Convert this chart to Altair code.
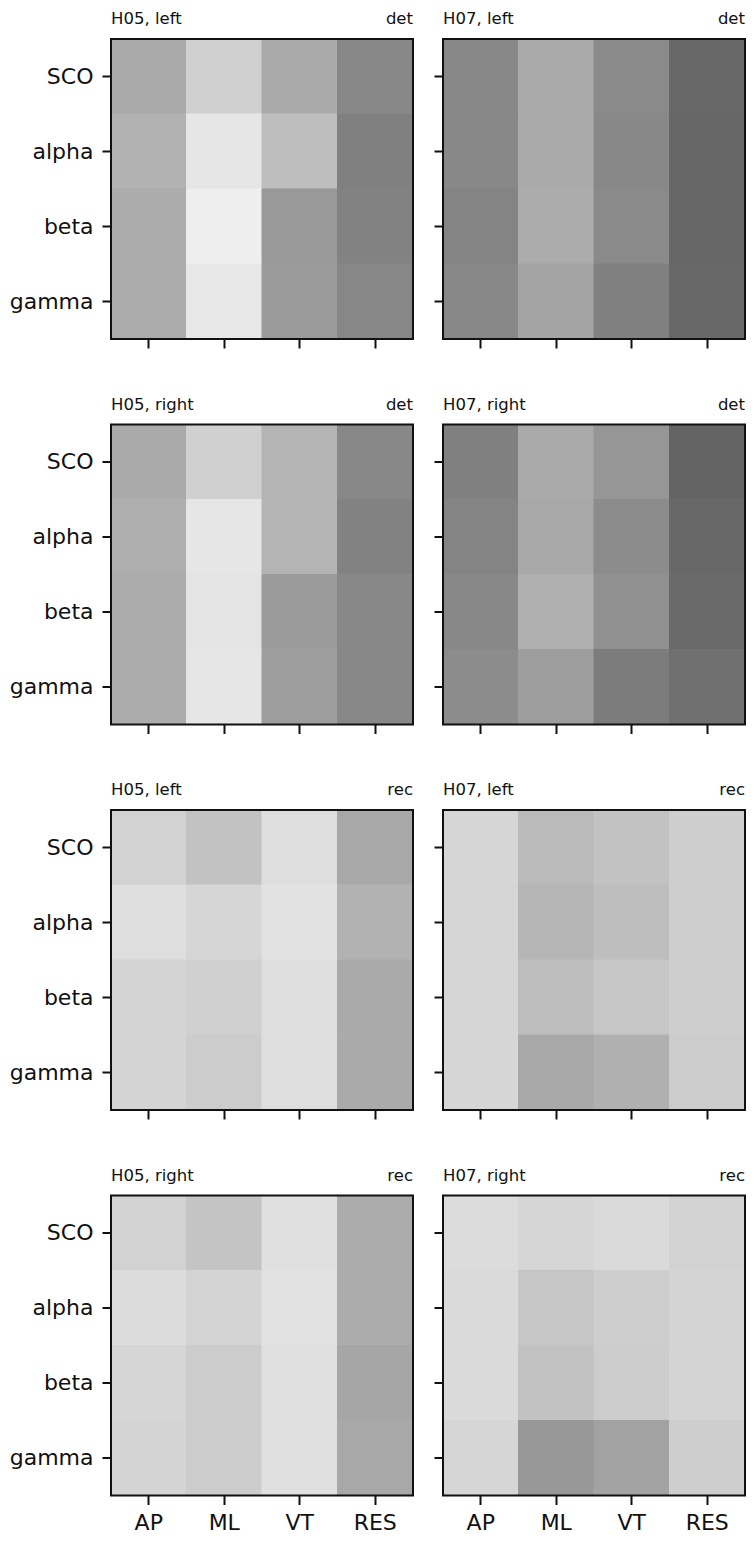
import altair as alt
import pandas as pd

FONT = "DejaVu Sans"

components = ["AP", "ML", "VT", "RES"]
bands = ["SCO", "alpha", "beta", "gamma"]

# grey level (0 = black, 255 = white) per cell, rows = bands, columns = components
H05_left_det = [[170, 208, 170, 136],
                [178, 230, 190, 128],
                [172, 238, 153, 130],
                [172, 232, 155, 135]]
H07_left_det = [[136, 170, 138, 104],
                [136, 170, 136, 102],
                [132, 172, 138, 102],
                [136, 164, 128, 104]]
H05_right_det = [[170, 208, 180, 136],
                 [174, 230, 180, 130],
                 [172, 228, 155, 136],
                 [172, 230, 158, 136]]
H07_right_det = [[128, 170, 150, 100],
                 [132, 168, 140, 104],
                 [136, 176, 144, 106],
                 [140, 158, 124, 112]]
H05_left_rec = [[210, 194, 222, 168],
                [222, 214, 226, 178],
                [212, 208, 222, 170],
                [212, 204, 222, 170]]
H07_left_rec = [[214, 186, 194, 206],
                [214, 182, 190, 206],
                [214, 190, 198, 206],
                [214, 168, 176, 204]]
H05_right_rec = [[210, 196, 224, 172],
                 [220, 212, 226, 172],
                 [214, 204, 224, 166],
                 [212, 204, 224, 168]]
H07_right_rec = [[220, 214, 218, 210],
                 [218, 198, 206, 212],
                 [218, 194, 204, 212],
                 [214, 152, 162, 206]]

panels = [
    [("H05", "left", "det", H05_left_det), ("H07", "left", "det", H07_left_det)],
    [("H05", "right", "det", H05_right_det), ("H07", "right", "det", H07_right_det)],
    [("H05", "left", "rec", H05_left_rec), ("H07", "left", "rec", H07_left_rec)],
    [("H05", "right", "rec", H05_right_rec), ("H07", "right", "rec", H07_right_rec)],
]

W, H = 302, 300
LABEL_SIZE = 22
TITLE_SIZE = 16.5

grey_scale = alt.Scale(domain=[0, 255], range=["#000000", "#ffffff"],
                       interpolate="rgb")


def panel(subj, side, kind, grid, show_y, show_x):
    rows = []
    for i, b in enumerate(bands):
        for j, c in enumerate(components):
            rows.append({"band": b, "comp": c, "grey": grid[i][j]})
    df = pd.DataFrame(rows)
    rect = alt.Chart(df).mark_rect(strokeWidth=1).encode(
        x=alt.X("comp:N", sort=components,
                scale=alt.Scale(paddingInner=0, paddingOuter=0),
                axis=alt.Axis(title=None, labels=show_x, labelAngle=0,
                              labelFontSize=LABEL_SIZE, labelFont=FONT,
                              labelColor="#111", labelPadding=8,
                              tickSize=9, tickWidth=2, tickColor="#111",
                              domain=False)),
        y=alt.Y("band:N", sort=bands,
                scale=alt.Scale(paddingInner=0, paddingOuter=0),
                axis=alt.Axis(title=None, labels=show_y,
                              labelFontSize=LABEL_SIZE, labelFont=FONT,
                              labelColor="#111", labelPadding=9,
                              tickSize=9, tickWidth=2, tickColor="#111",
                              domain=False)),
        color=alt.Color("grey:Q", legend=None, scale=grey_scale),
        stroke=alt.Stroke("grey:Q", legend=None, scale=grey_scale),
    )
    tdf = pd.DataFrame({"lt": [f"{subj}, {side}"], "rt": [kind]})
    frame = alt.Chart(tdf).mark_rect(
        fill=None, filled=False, stroke="#111", strokeWidth=2).encode(
        x=alt.value(0), x2=alt.value(W), y=alt.value(0), y2=alt.value(H))
    left_t = alt.Chart(tdf).mark_text(
        align="left", baseline="alphabetic", fontSize=TITLE_SIZE,
        font=FONT, color="#111").encode(
        x=alt.value(0), y=alt.value(-15), text="lt:N")
    right_t = alt.Chart(tdf).mark_text(
        align="right", baseline="alphabetic", fontSize=TITLE_SIZE,
        font=FONT, color="#111").encode(
        x=alt.value(W), y=alt.value(-15), text="rt:N")
    return alt.layer(rect, frame, left_t, right_t).properties(width=W, height=H)


rows_charts = []
for r, row in enumerate(panels):
    cells = []
    for c, (subj, side, kind, grid) in enumerate(row):
        cells.append(panel(subj, side, kind, grid,
                           show_y=(c == 0), show_x=(r == len(panels) - 1)))
    rows_charts.append(alt.hconcat(*cells, spacing=19))

chart = alt.vconcat(*rows_charts, spacing=47.5).properties(
    padding={"left": 1, "top": 3, "right": 0, "bottom": 0}
).configure_view(
    strokeWidth=0
)

chart.save("out.html", embed_options={"renderer": "svg", "actions": False})
